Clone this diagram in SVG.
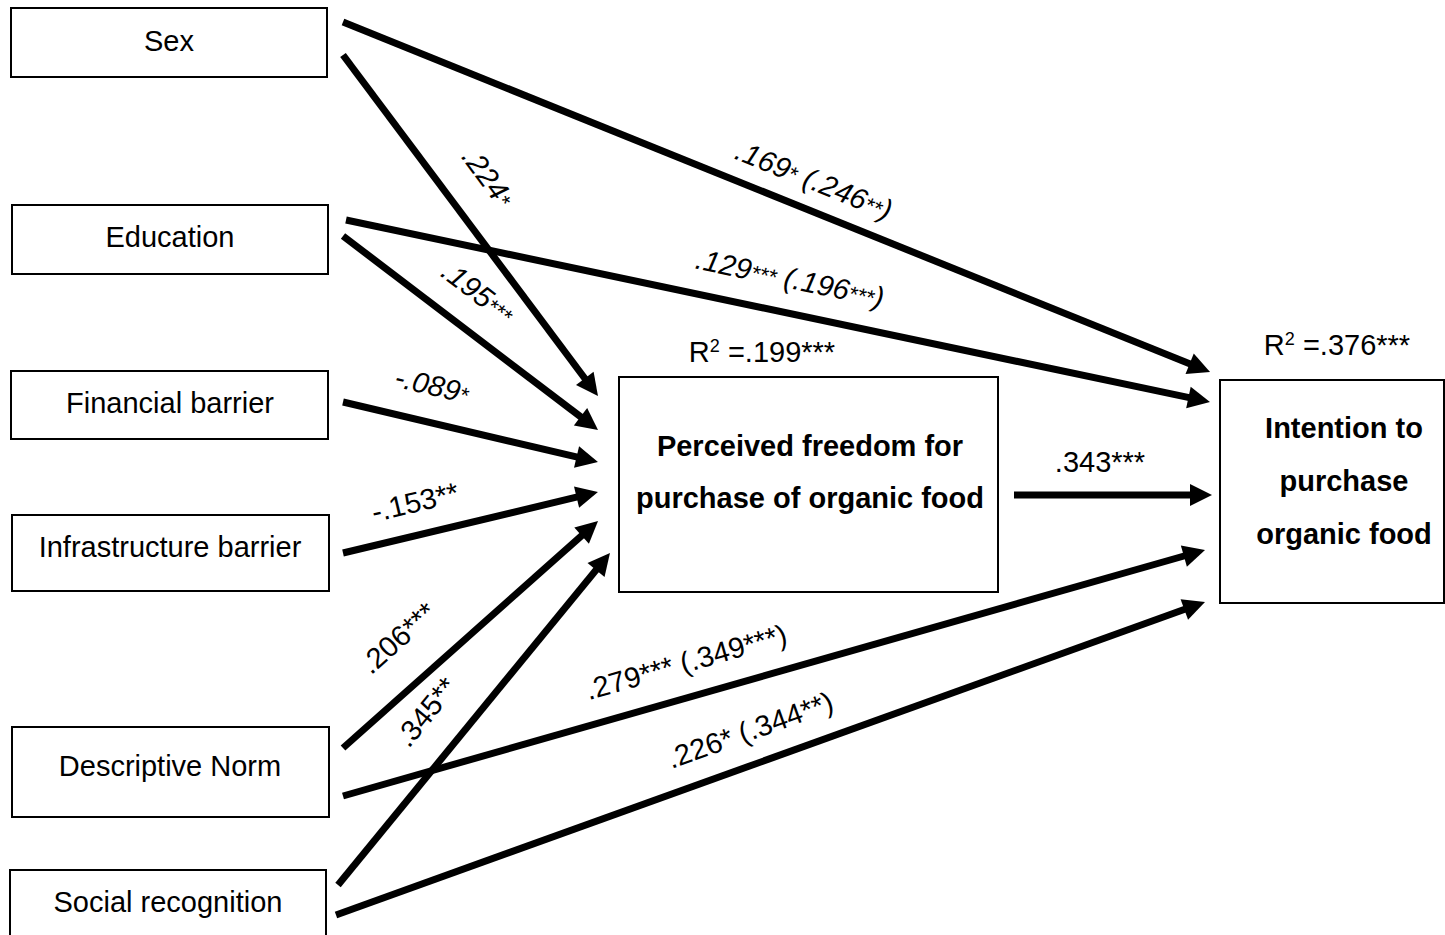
<svg xmlns="http://www.w3.org/2000/svg" width="1445" height="935" viewBox="0 0 1445 935">
  <style>
    .box { fill: #ffffff; stroke: #000000; stroke-width: 2; }
    .lbl { font-family: "Liberation Sans", Arial, sans-serif; font-size: 29px; fill: #000000; text-anchor: middle; }
    .bold { font-weight: bold; }
    .coef { font-family: "Liberation Sans", Arial, sans-serif; font-size: 29px; fill: #000000; text-anchor: middle; }
    .it { font-style: italic; }
    .ast { font-size: 22px; }
    .path { stroke: #000000; stroke-width: 7; fill: none; marker-end: url(#head); }
  </style>
  <defs>
    <marker id="head" markerUnits="userSpaceOnUse" markerWidth="24" markerHeight="24" refX="2" refY="11" orient="auto" overflow="visible">
      <path d="M0,0 L22,11 L0,22 z" fill="#000000"/>
    </marker>
  </defs>

  <rect width="1445" height="935" fill="#ffffff"/>

  <!-- predictor boxes -->
  <g id="sex">
    <rect class="box" x="11" y="8" width="316" height="69"/>
    <text class="lbl" x="169" y="51">Sex</text>
  </g>
  <g id="education">
    <rect class="box" x="12" y="205" width="316" height="69"/>
    <text class="lbl" x="170" y="247">Education</text>
  </g>
  <g id="financial-barrier">
    <rect class="box" x="11" y="371" width="317" height="68"/>
    <text class="lbl" x="170" y="413">Financial barrier</text>
  </g>
  <g id="infrastructure-barrier">
    <rect class="box" x="12" y="515" width="317" height="76"/>
    <text class="lbl" x="170" y="557">Infrastructure barrier</text>
  </g>
  <g id="descriptive-norm">
    <rect class="box" x="12" y="727" width="317" height="90"/>
    <text class="lbl" x="170" y="776">Descriptive Norm</text>
  </g>
  <g id="social-recognition">
    <rect class="box" x="10" y="870" width="316" height="80"/>
    <text class="lbl" x="168" y="912">Social recognition</text>
  </g>

  <!-- mediator -->
  <g id="perceived-freedom">
    <rect class="box" x="619" y="377" width="379" height="215"/>
    <text class="lbl bold" x="810" y="456">Perceived freedom for</text>
    <text class="lbl bold" x="810" y="508">purchase of organic food</text>
    <text class="lbl" x="762" y="362">R<tspan font-size="18" baseline-shift="super">2</tspan> =.199***</text>
  </g>

  <!-- outcome -->
  <g id="intention">
    <rect class="box" x="1220" y="380" width="224" height="223"/>
    <text class="lbl bold" x="1344" y="438">Intention to</text>
    <text class="lbl bold" x="1344" y="491">purchase</text>
    <text class="lbl bold" x="1344" y="544">organic food</text>
    <text class="lbl" x="1337" y="355">R<tspan font-size="18" baseline-shift="super">2</tspan> =.376***</text>
  </g>

  <!-- paths -->
  <g id="connectors">
    <line class="path" x1="343" y1="22" x2="1191.5" y2="364.5"/>
    <line class="path" x1="343" y1="55" x2="586" y2="380"/>
    <line class="path" x1="346" y1="220" x2="1190.4" y2="397.9"/>
    <line class="path" x1="343" y1="236" x2="582.1" y2="417.9"/>
    <line class="path" x1="343" y1="402" x2="578.5" y2="457.4"/>
    <line class="path" x1="343" y1="553" x2="578.5" y2="496.7"/>
    <line class="path" x1="343" y1="748" x2="583.1" y2="534.3"/>
    <line class="path" x1="338" y1="885" x2="597.3" y2="568.5"/>
    <line class="path" x1="343" y1="796" x2="1185.8" y2="555.5"/>
    <line class="path" x1="336" y1="915" x2="1186.2" y2="608.8"/>
    <line class="path" x1="1014" y1="495" x2="1192" y2="495"/>
  </g>

  <!-- path coefficients -->
  <g id="coefficients">
    <text class="coef it" transform="translate(814,180) rotate(22)" dy="0.35em">.169<tspan class="ast">*</tspan> (.246<tspan class="ast">**</tspan>)</text>
    <text class="coef it" transform="translate(790,278) rotate(11.9)" dy="0.35em">.129<tspan class="ast">***</tspan> (.196<tspan class="ast">***</tspan>)</text>
    <text class="coef it" transform="translate(488,177) rotate(53.2)" dy="0.35em">.224<tspan class="ast">*</tspan></text>
    <text class="coef it" transform="translate(478,292) rotate(37.3)" dy="0.35em">.195<tspan class="ast">***</tspan></text>
    <text class="coef it" transform="translate(432,385) rotate(13.2)" dy="0.35em">-.089<tspan class="ast">*</tspan></text>
    <text class="coef" transform="translate(415,502) rotate(-13.5)" dy="0.35em">-.153**</text>
    <text class="coef" transform="translate(398,638) rotate(-41.7)" dy="0.35em">.206***</text>
    <text class="coef" transform="translate(426,712) rotate(-50.7)" dy="0.35em">.345**</text>
    <text class="coef" transform="translate(686,662) rotate(-15.9)" dy="0.35em">.279*** (.349***)</text>
    <text class="coef" transform="translate(750,730) rotate(-19.8)" dy="0.35em">.226* (.344**)</text>
    <text class="coef" x="1100" y="472">.343***</text>
  </g>
</svg>
